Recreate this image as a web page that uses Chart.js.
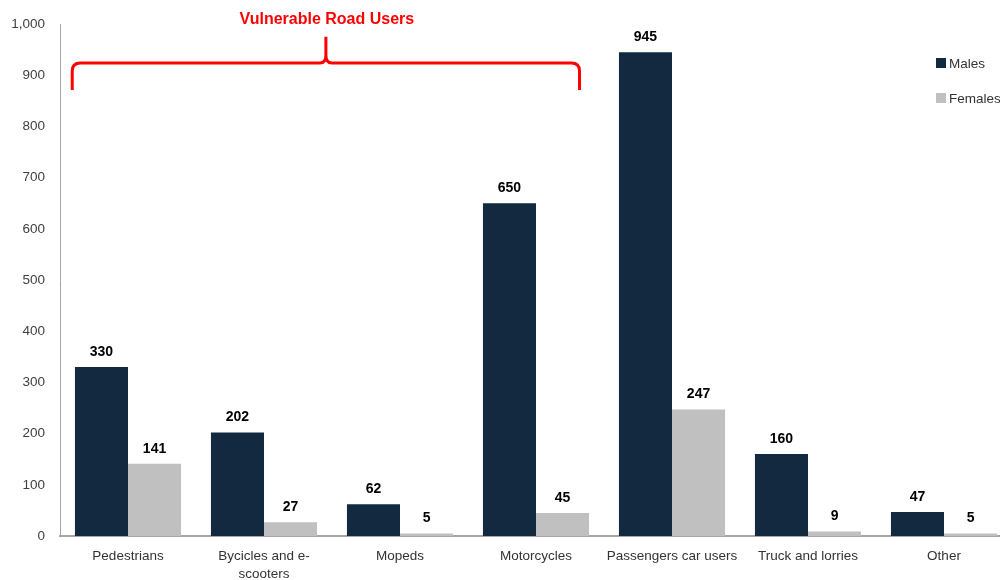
<!DOCTYPE html>
<html>
<head>
<meta charset="utf-8">
<script src="https://cdn.jsdelivr.net/npm/chart.js@4"></script>
<style>
  html, body { margin: 0; padding: 0; background: #fff; overflow: hidden; }
  #wrap { width: 1012px; height: 580px; }
</style>
</head>
<body>
<div id="wrap"><canvas id="myChart"></canvas></div>
<script>
// chart data
const categories = ["Pedestrians", ["Bycicles and e-", "scooters"], "Mopeds", "Motorcycles", "Passengers car users", "Truck and lorries", "Other"];
const males = [330, 202, 62, 650, 945, 160, 47];
const females = [141, 27, 5, 45, 247, 9, 5];
const yTicks = [0, 100, 200, 300, 400, 500, 600, 700, 800, 900, 1000];
const bracketTitle = "Vulnerable Road Users";
const seriesNames = ["Males", "Females"];
const seriesColors = ["#12293f", "#c0c0c0"];

const FONT = "'Liberation Sans', Arial, sans-serif";

// value labels above bars
const valueLabels = {
  id: "valueLabels",
  afterDatasetsDraw(chart) {
    const ctx = chart.ctx;
    ctx.save();
    ctx.font = "bold 14px " + FONT;
    ctx.fillStyle = "#000";
    ctx.textAlign = "center";
    ctx.textBaseline = "bottom";
    chart.data.datasets.forEach((ds, i) => {
      chart.getDatasetMeta(i).data.forEach((bar, j) => {
        ctx.fillText(ds.data[j], bar.x, bar.y - 8);
      });
    });
    ctx.restore();
  }
};

// red bracket over the vulnerable road users
const bracket = {
  id: "bracket",
  afterDraw(chart) {
    const ctx = chart.ctx;
    const x = chart.scales.x, y = chart.scales.y;
    const cw = x.getPixelForValue(1) - x.getPixelForValue(0);
    const left = x.getPixelForValue(0) - 0.41 * cw;
    const right = x.getPixelForValue(3) + 0.32 * cw;
    const mid = (left + right) / 2;
    const yBar = y.getPixelForValue(924);
    const yEnd = y.getPixelForValue(871);
    const yTip = y.getPixelForValue(975);
    const r = 8;
    ctx.save();
    ctx.strokeStyle = "#ff0000";
    ctx.lineWidth = 3;
    ctx.lineJoin = "round";
    ctx.beginPath();
    ctx.moveTo(left, yEnd);
    ctx.lineTo(left, yBar + r);
    ctx.quadraticCurveTo(left, yBar, left + r, yBar);
    ctx.lineTo(mid - 6, yBar);
    ctx.quadraticCurveTo(mid, yBar, mid, yBar - 8);
    ctx.lineTo(mid, yTip);
    ctx.moveTo(mid, yBar - 8);
    ctx.quadraticCurveTo(mid, yBar, mid + 6, yBar);
    ctx.lineTo(right - r, yBar);
    ctx.quadraticCurveTo(right, yBar, right, yBar + r);
    ctx.lineTo(right, yEnd);
    ctx.stroke();
    ctx.font = "bold 16px " + FONT;
    ctx.fillStyle = "#ff0000";
    ctx.textAlign = "center";
    ctx.textBaseline = "middle";
    ctx.fillText(bracketTitle, mid + 1, 20);
    ctx.restore();
  }
};

// legend in the top right corner
const cornerLegend = {
  id: "cornerLegend",
  afterDraw(chart) {
    const ctx = chart.ctx;
    ctx.save();
    ctx.font = "13.5px " + FONT;
    ctx.textBaseline = "middle";
    seriesNames.forEach((name, i) => {
      const yy = 63 + i * 35;
      ctx.fillStyle = seriesColors[i];
      ctx.fillRect(936, yy - 5, 10, 10);
      ctx.fillStyle = "#333";
      ctx.fillText(name, 949, yy + 1);
    });
    ctx.restore();
  }
};

const ctx = document.getElementById("myChart").getContext("2d");
new Chart(ctx, {
  type: "bar",
  data: {
    labels: categories,
    datasets: seriesNames.map((name, i) => ({
      label: name,
      data: i === 0 ? males : females,
      backgroundColor: seriesColors[i],
      categoryPercentage: 0.78,
      barPercentage: 1.0
    }))
  },
  options: {
    responsive: true,
    maintainAspectRatio: false,
    animation: false,
    layout: { padding: { top: 24, right: 0, left: 0, bottom: 0 } },
    scales: {
      x: {
        grid: { display: false, drawTicks: false },
        border: { color: "#a6a6a6", width: 2 },
        ticks: {
          color: "#333",
          padding: 12,
          maxRotation: 0,
          autoSkip: false,
          font: { family: FONT, size: 13.5, lineHeight: 1.3 }
        },
        afterFit(scale) { scale.height = 44; }
      },
      y: {
        min: 0,
        max: 1000,
        grid: { display: false, drawTicks: false },
        border: { color: "#a6a6a6", width: 1 },
        afterBuildTicks(scale) { scale.ticks = yTicks.map(v => ({ value: v })); },
        ticks: {
          color: "#404040",
          padding: 15,
          font: { family: FONT, size: 13.5 },
          callback: v => v.toLocaleString("en-US")
        },
        afterFit(scale) { scale.width = 60; }
      }
    },
    plugins: {
      legend: { display: false },
      tooltip: { enabled: false }
    }
  },
  plugins: [valueLabels, bracket, cornerLegend]
});
</script>
</body>
</html>
